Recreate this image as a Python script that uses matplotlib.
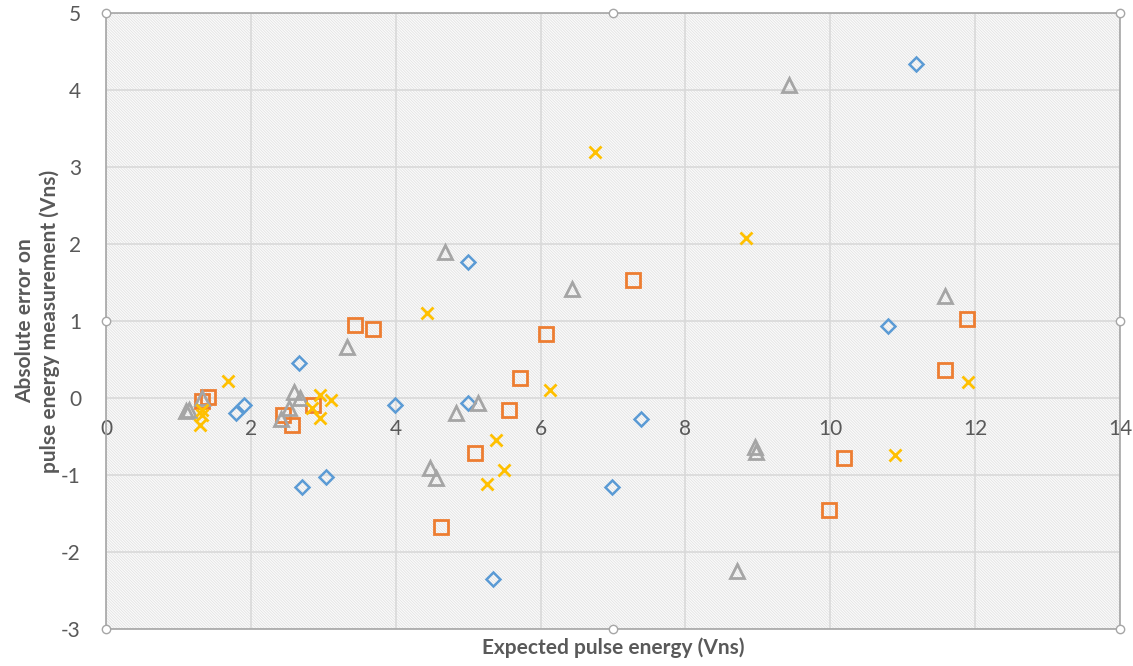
import matplotlib.pyplot as plt
from matplotlib.patches import Rectangle

plt.rcParams['font.family'] = ['Lato', 'DejaVu Sans']
plt.rcParams['hatch.linewidth'] = 0.6

# series 1 (blue diamonds)
s1_x = [1.80, 1.905, 2.66, 2.70, 3.04, 3.99, 5.00, 5.00, 5.35, 6.99, 7.39, 10.79, 11.19]
s1_y = [-0.20, -0.09, 0.46, -1.15, -1.03, -0.09, 1.76, -0.07, -2.35, -1.16, -0.27, 0.94, 4.34]

# series 2 (orange squares)
s2_x = [1.33, 1.41, 2.45, 2.57, 2.86, 3.44, 3.68, 4.62, 5.09, 5.56, 5.71, 6.07, 7.27, 9.98, 10.19, 11.59, 11.89]
s2_y = [-0.04, 0.01, -0.22, -0.35, -0.09, 0.95, 0.89, -1.67, -0.72, -0.16, 0.26, 0.83, 1.53, -1.46, -0.78, 0.36, 1.02]

# series 3 (grey triangles)
s3_x = [1.10, 1.15, 1.32, 2.42, 2.52, 2.59, 2.68, 3.33, 4.47, 4.55, 4.68, 4.83, 5.14, 6.44, 8.71, 8.96, 8.98, 9.43, 11.59]
s3_y = [-0.17, -0.15, 0.00, -0.27, -0.13, 0.08, 0.00, 0.66, -0.91, -1.04, 1.89, -0.19, -0.07, 1.42, -2.25, -0.63, -0.70, 4.07, 1.32]

# series 4 (yellow crosses)
s4_x = [1.30, 1.32, 1.32, 1.69, 2.84, 2.95, 2.95, 3.11, 4.43, 5.26, 5.39, 5.49, 6.13, 6.75, 8.84, 10.89, 11.90]
s4_y = [-0.35, -0.22, -0.15, 0.22, -0.13, 0.04, -0.26, -0.03, 1.11, -1.12, -0.55, -0.94, 0.10, 3.20, 2.08, -0.74, 0.21]

x_ticks = [0, 2, 4, 6, 8, 10, 12, 14]
y_ticks = [-3, -2, -1, 0, 1, 2, 3, 4, 5]

txt = '#595959'
fig = plt.figure(figsize=(11.33, 6.66), dpi=100)
ax = fig.add_axes([106/1133, 37/666, 1014/1133, 616/666])

# hatched plot area
ax.add_patch(Rectangle((0, 0), 1, 1, transform=ax.transAxes, facecolor='#fcfcfc',
                       edgecolor='#e2e2e2', hatch='\\\\\\\\\\\\\\\\\\\\\\\\', lw=0, zorder=0))

ax.set_xlim(0, 14)
ax.set_ylim(-3, 5)
ax.set_xticks(x_ticks)
ax.set_yticks(y_ticks)
ax.set_xticklabels([str(v) for v in x_ticks])
ax.set_yticklabels([str(v) for v in y_ticks])
ax.grid(True, color='#d9d9d9', lw=1.2, zorder=1)
ax.set_axisbelow(True)

for s in ax.spines.values():
    s.set_visible(False)
ax.spines['bottom'].set_position(('data', 0))
ax.tick_params(axis='both', length=0, labelsize=15, colors=txt)
ax.tick_params(axis='x', pad=15)
ax.tick_params(axis='y', pad=18)

# frame
ax.add_patch(Rectangle((0, 0), 1, 1, transform=ax.transAxes, fill=False,
                       edgecolor='#a6a6a6', lw=1.2, clip_on=False, zorder=3))

ax.plot(s1_x, s1_y, ls='none', marker='D', ms=7.5, mfc='none', mec='#5B9BD5', mew=1.8, zorder=4)
ax.plot(s2_x, s2_y, ls='none', marker='s', ms=9.5, mfc='none', mec='#ED7D31', mew=2.0, zorder=4)
ax.plot(s3_x, s3_y, ls='none', marker='^', ms=9.5, mfc='none', mec='#A5A5A5', mew=2.0, zorder=4)
ax.plot(s4_x, s4_y, ls='none', marker='x', ms=8.5, mec='#FFC000', mew=2.0, zorder=4)

# selection handles
hx = [0, 0.5, 1, 0, 1, 0, 0.5, 1]
hy = [0, 0, 0, 0.5, 0.5, 1, 1, 1]
ax.plot(hx, hy, ls='none', marker='o', ms=6, mfc='white', mec='#a6a6a6', mew=1,
        transform=ax.transAxes, clip_on=False, zorder=5)

ax.set_xlabel('Expected pulse energy (Vns)', fontsize=15, fontweight='bold', color=txt)
ax.xaxis.set_label_coords(0.5, -0.014)
ax.set_ylabel('Absolute error on\npulse energy measurement (Vns)', fontsize=15,
              fontweight='bold', color=txt, linespacing=1.3)
ax.yaxis.set_label_coords(-0.045, 0.5)

fig.savefig('out.png', dpi=100)
